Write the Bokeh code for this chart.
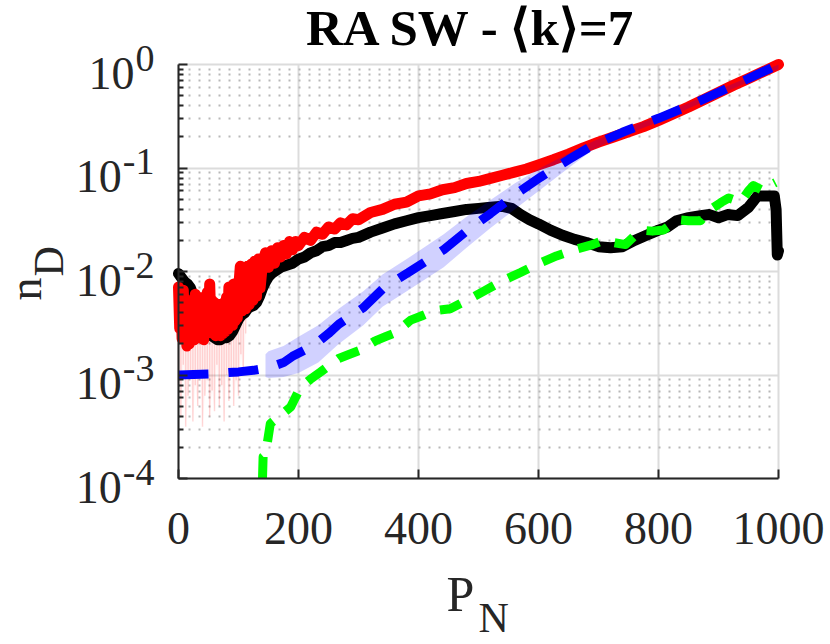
from bokeh.plotting import figure
from bokeh.models import Range1d, FixedTicker, CustomJSTickFormatter
from bokeh.core.properties import value
from bokeh.embed import file_html
from bokeh.resources import INLINE
import math

# ---------------- data (log10 exponents) ----------------
x_ticks = [0, 200, 400, 600, 800, 1000]
x_tick_labels = ["0", "200", "400", "600", "800", "1000"]
y_ticks = [1e-4, 1e-3, 1e-2, 1e-1, 1e0]
y_tick_sup = ["-4", "-3", "-2", "-1", "0"]

red_P = [0, 2, 4, 6, 8, 10, 12, 14, 16, 18, 20, 22, 24, 26, 28, 30, 32, 34, 36, 38,
         40, 42, 44, 46, 48, 50, 52, 54, 56, 58, 60, 62, 64, 66, 68, 70, 72, 74, 76, 78,
         80, 82, 84, 86, 88, 90, 92, 94, 96, 98, 100,
         103, 106, 109, 112, 115, 118, 121, 124, 127, 130, 133, 136, 140,
         145, 150, 155, 160, 165, 170, 175, 180, 185, 190, 195, 200,
         210, 220, 230, 240, 250, 260, 270, 280, 290, 300,
         320, 340, 360, 380, 400, 420, 440, 460, 480, 500, 520, 540, 560, 580, 600,
         625, 650, 675, 700, 725, 750, 775, 800, 825, 850, 875, 900, 925, 950, 975, 1000]
red_log10 = [-2.15, -2.55, -2.25, -2.65, -2.18, -2.60, -2.30, -2.72, -2.40, -2.70,
             -2.28, -2.62, -2.35, -2.66, -2.22, -2.58, -2.32, -2.64, -2.25, -2.60,
             -2.38, -2.66, -2.30, -2.60, -2.20, -2.55, -2.12, -2.50, -2.28, -2.60,
             -2.30, -2.62, -2.35, -2.60, -2.32, -2.62, -2.36, -2.60, -2.30, -2.58,
             -2.25, -2.56, -2.15, -2.50, -2.20, -2.52, -2.12, -2.48, -2.20, -2.45, -2.18,
             -1.95, -2.38, -1.98, -2.36, -1.95, -2.32, -1.93, -2.28, -1.90, -2.24,
             -1.88, -2.16, -1.92,
             -1.82, -1.96, -1.80, -1.92, -1.77, -1.86, -1.75, -1.83, -1.71, -1.79, -1.71, -1.75,
             -1.67, -1.70, -1.62, -1.64, -1.57, -1.59, -1.53, -1.55, -1.49, -1.50,
             -1.43, -1.40, -1.35, -1.33, -1.27, -1.25, -1.21, -1.19, -1.15, -1.13,
             -1.10, -1.07, -1.04, -1.01, -0.97,
             -0.92, -0.865, -0.805, -0.75, -0.70, -0.65, -0.60, -0.54, -0.475, -0.41,
             -0.34, -0.27, -0.20, -0.135, -0.068, 0.0]

# faint thin spread below the red series at small P
pink_P = [0, 4, 8, 12, 16, 20, 24, 28, 32, 36, 40, 44, 48, 52, 56, 60, 64, 68, 72, 76,
          80, 84, 88, 92, 96, 100, 104, 108, 112]
pink_top_log10 = [-2.40] * 29
pink_lo_log10 = [-3.10, -3.40, -2.90, -3.50, -3.20, -3.00, -3.45, -3.10, -3.30, -2.95,
                 -3.50, -3.20, -3.05, -3.40, -3.15, -3.35, -2.90, -3.30, -3.10, -3.45,
                 -3.00, -3.25, -2.95, -3.30, -3.05, -3.20, -2.80, -3.00, -2.60]

black_P = [0, 5, 10, 15, 20, 25, 30, 35, 40, 45, 50, 55, 60, 65, 70, 75, 80, 85, 90, 95,
           100, 105, 110, 115, 120, 125, 130, 135, 140, 145, 150, 155, 160, 170, 180, 190,
           200, 210, 220, 230, 240, 250, 260, 270, 280, 290, 300, 320, 340, 360, 380,
           400, 420, 440, 460, 480, 500, 520, 540, 555, 570, 585, 600, 620, 640, 660,
           680, 700, 720, 740, 760, 780, 800, 815, 830, 850, 870, 885, 900, 915, 932,
           950, 965, 980, 993, 996, 998, 1000]
black_log10 = [-2.02, -2.06, -2.10, -2.12, -2.16, -2.24, -2.32, -2.42, -2.50, -2.56,
               -2.60, -2.62, -2.64, -2.66, -2.66, -2.64, -2.64, -2.62, -2.58, -2.52,
               -2.46, -2.42, -2.40, -2.36, -2.34, -2.33, -2.30, -2.24, -2.16, -2.10,
               -2.05, -2.02, -2.00, -1.96, -1.94, -1.92,
               -1.88, -1.86, -1.82, -1.80, -1.76, -1.75, -1.72, -1.72, -1.70, -1.68,
               -1.67, -1.62, -1.58, -1.54, -1.51,
               -1.48, -1.46, -1.44, -1.42, -1.40, -1.39, -1.38, -1.37, -1.39, -1.45,
               -1.50, -1.54, -1.60, -1.65, -1.69,
               -1.72, -1.76, -1.77, -1.76, -1.70, -1.65, -1.60, -1.57, -1.51, -1.48,
               -1.46, -1.45, -1.48, -1.45, -1.46,
               -1.38, -1.27, -1.27, -1.27, -1.40, -1.84, -1.80]

blue_P = [0, 50, 100, 125, 150, 175, 190, 210, 233, 250, 267, 290, 308, 340, 358, 383,
          410, 442, 480, 520, 560, 603, 650, 692, 740, 782, 800, 850, 900, 950, 1000]
blue_log10 = [-3.00, -2.99, -2.97, -2.955, -2.93, -2.88, -2.82, -2.76, -2.68, -2.60,
              -2.51, -2.42, -2.35, -2.17, -2.10, -2.01, -1.91, -1.79, -1.61, -1.44,
              -1.26, -1.09, -0.92, -0.775, -0.655, -0.56, -0.52, -0.40, -0.27, -0.135, 0.0]

band_P = [145, 150, 175, 200, 233, 267, 308, 340, 383, 442, 480, 520, 560, 603, 650,
          692, 740, 800, 900, 1000]
band_hi_log10 = [-2.80, -2.77, -2.72, -2.63, -2.52, -2.36, -2.19, -2.03, -1.87, -1.64,
                 -1.47, -1.31, -1.15, -1.00, -0.86, -0.74, -0.63, -0.50, -0.245, 0.0]
band_lo_log10 = [-3.02, -3.03, -3.02, -2.98, -2.88, -2.70, -2.52, -2.34, -2.18, -1.96,
                 -1.77, -1.58, -1.40, -1.21, -1.00, -0.82, -0.69, -0.555, -0.295, -0.045]

green_P = [140, 141, 145, 153, 170, 187, 203, 220, 237, 267, 285, 303, 328, 345, 362,
           387, 405, 425, 453, 470, 487, 512, 540, 570, 598, 630, 665, 690, 708, 725,
           745, 770, 790, 808, 832, 850, 870, 887, 905, 917, 937, 950, 958, 975, 985, 995]
green_log10 = [-4.00, -3.79, -3.77, -3.47, -3.39, -3.31, -3.12, -3.04, -2.97, -2.84,
               -2.80, -2.76, -2.67, -2.63, -2.59, -2.47, -2.43, -2.38, -2.36, -2.31,
               -2.26, -2.18, -2.09, -2.01, -1.93, -1.85, -1.78, -1.74, -1.70, -1.72,
               -1.74, -1.60, -1.61, -1.60, -1.50, -1.51, -1.51, -1.40, -1.33, -1.29,
               -1.33, -1.22, -1.17, -1.22, -1.17, -1.14]

title_text = "RA SW - \u27e8k\u27e9=7"
xlabel_main, xlabel_sub = "P", "N"
ylabel_main, ylabel_sub = "n", "D"


def pw(vals):
    return [10.0 ** v for v in vals]


red = pw(red_log10)
pink_lo = pw(pink_lo_log10)
pink_top = pw(pink_top_log10)
black = pw(black_log10)
blue = pw(blue_log10)
band_hi = pw(band_hi_log10)
band_lo = pw(band_lo_log10)
green = pw(green_log10)

# ---------------- layout constants (pixels) ----------------
W, H = 830, 644
BOX_L, BOX_R, BOX_T, BOX_B = 178, 778, 64, 478
px_per_x = (BOX_R - BOX_L) / (x_ticks[-1] - x_ticks[0])
px_per_dec = (BOX_B - BOX_T) / 4.0
x_start = x_ticks[0] - BOX_L / px_per_x
x_end = x_ticks[-1] + (W - BOX_R) / px_per_x
y_start = 10 ** (math.log10(y_ticks[0]) - (H - BOX_B) / px_per_dec)
y_end = 10 ** (math.log10(y_ticks[-1]) + BOX_T / px_per_dec)

FONT = "Liberation Serif"
AX = "#262626"

p = figure(width=W, height=H, x_range=Range1d(x_start, x_end),
           y_range=Range1d(y_start, y_end), y_axis_type="log",
           output_backend="svg", toolbar_location=None,
           min_border_left=0, min_border_right=0, min_border_top=0, min_border_bottom=0)
p.outline_line_color = None
p.background_fill_color = "white"
p.border_fill_color = "white"

minor_y = [m * t for t in y_ticks[:-1] for m in range(2, 10)]
p.xaxis.ticker = FixedTicker(ticks=x_ticks, minor_ticks=[])
p.yaxis.ticker = FixedTicker(ticks=y_ticks, minor_ticks=minor_y)
p.xaxis.fixed_location = y_ticks[0]
p.yaxis.fixed_location = x_ticks[0]
p.xaxis.bounds = (x_ticks[0], x_ticks[-1])
p.yaxis.bounds = (y_ticks[0], y_ticks[-1])
for ax in (p.xaxis, p.yaxis):
    ax.formatter = CustomJSTickFormatter(code="return ''")
    ax.axis_line_color = AX
    ax.axis_line_width = 2
    ax.major_tick_line_color = AX
    ax.major_tick_line_width = 2
    ax.major_tick_in = 9
    ax.major_tick_out = 0
    ax.minor_tick_line_color = AX
    ax.minor_tick_line_width = 2
    ax.minor_tick_in = 5
    ax.minor_tick_out = 0

GRID = "#dcdcdc"
MINOR = "#b8b8b8"
use_builtin = True
try:
    p.xgrid.cross_bounds = (y_ticks[0], y_ticks[-1])
    p.ygrid.cross_bounds = (x_ticks[0], x_ticks[-1])
except Exception:
    use_builtin = False

if use_builtin:
    p.xgrid.bounds = (x_ticks[0], x_ticks[-1])
    p.ygrid.bounds = (y_ticks[0], y_ticks[-1])
    p.xgrid.grid_line_color = GRID
    p.xgrid.grid_line_width = 2
    p.ygrid.grid_line_color = GRID
    p.ygrid.grid_line_width = 2
    p.ygrid.minor_grid_line_color = MINOR
    p.ygrid.minor_grid_line_width = 2
    p.ygrid.minor_grid_line_dash = "2 8"
else:
    p.xgrid.visible = False
    p.ygrid.visible = False
    p.segment(x0=x_ticks, y0=[y_ticks[0]] * len(x_ticks), x1=x_ticks,
              y1=[y_ticks[-1]] * len(x_ticks), line_color=GRID, line_width=2)
    p.segment(x0=[x_ticks[0]] * len(minor_y), y0=minor_y, x1=[x_ticks[-1]] * len(minor_y),
              y1=minor_y, line_color=MINOR, line_width=2, line_dash="2 8")
    p.segment(x0=[x_ticks[0]] * len(y_ticks), y0=y_ticks, x1=[x_ticks[-1]] * len(y_ticks),
              y1=y_ticks, line_color=GRID, line_width=2)

# ---------------- data glyphs ----------------
p.varea(x=pink_P, y1=pink_lo, y2=pink_top, fill_color="#ff0000", fill_alpha=0.04)
p.segment(x0=pink_P, y0=pink_lo, x1=pink_P, y1=pink_top,
          line_color="#ff0000", line_alpha=0.15, line_width=1.5)
p.line(black_P, black, line_color="black", line_width=11, line_join="round", line_cap="round")
p.line(red_P, red, line_color="#ff0000", line_width=11, line_join="round", line_cap="round")
p.varea(x=band_P, y1=band_lo, y2=band_hi, fill_color="#0000ff", fill_alpha=0.18)
p.line(blue_P, blue, line_color="#0000ff", line_width=9, line_dash="30 20")
p.line(green_P, green, line_color="#00ff00", line_width=9, line_dash="22 16", line_join="round")

# ---------------- texts ----------------
BL = 0.37  # empirical correction of the rendered baseline, in em


def txt(x, y, s, size, dx=0, dy=0, align="left", angle=0.0, bold=False, color=AX):
    if angle == 0.0:
        dy = dy - BL * size
    else:
        dx = dx - BL * size
    p.text(x=x, y=y, text=s, x_offset=dx, y_offset=dy, angle=angle,
           text_align=align, text_baseline="alphabetic", text_font=value(FONT),
           text_font_size=value(f"{size}px"), text_color=color,
           text_font_style="bold" if bold else "normal")


# title
txt([500], [y_ticks[-1]], [title_text], 51, dx=-7, dy=-18, align="center", bold=True, color="black")

# x tick labels
txt(x_ticks, [y_ticks[0]] * len(x_ticks), x_tick_labels, 46, dy=67, align="center")

# y tick labels 10^e
SUP = 38
for t, s in zip(y_ticks, y_tick_sup):
    w_sup = sum(0.333 * SUP if ch == "-" else 0.5 * SUP for ch in s)
    txt([x_ticks[0]], [t], [s], SUP, dx=-24, dy=8, align="right")
    txt([x_ticks[0]], [t], ["10"], 46, dx=-24 - w_sup - 1, dy=26, align="right")

# x label P_N
txt([500], [y_ticks[0]], [xlabel_main], 50, dx=-32, dy=134)
txt([500], [y_ticks[0]], [xlabel_sub], 42, dx=0, dy=155)

# y label n_D (rotated)
txt([x_ticks[0]], [1e-2], [ylabel_main], 46, dx=-136, dy=29, angle=math.pi / 2)
txt([x_ticks[0]], [1e-2], [ylabel_sub], 42, dx=-114, dy=5, angle=math.pi / 2)

open("out.html", "w").write(file_html(p, INLINE))
